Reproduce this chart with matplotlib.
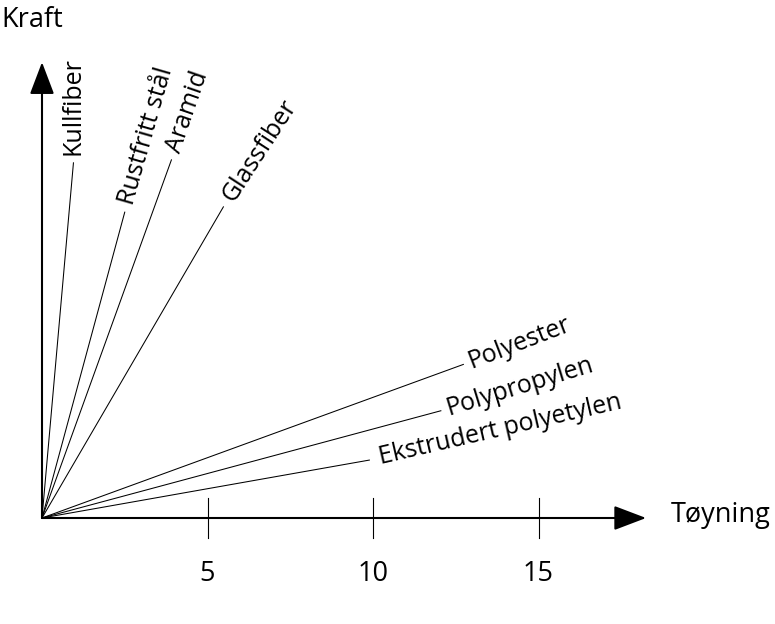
import numpy as np
import matplotlib
matplotlib.use("Agg")
import matplotlib.pyplot as plt

plt.rcParams['font.family'] = ['Open Sans', 'DejaVu Sans']

# materials: end point of each line (strain, force), force in arbitrary units
materials = ['Kullfiber', 'Rustfritt stål', 'Aramid', 'Glassfiber',
             'Polyester', 'Polypropylen', 'Ekstrudert polyetylen']
strain = [0.95, 2.50, 3.91, 5.48, 12.73, 12.05, 9.89]
force = [10.73, 9.24, 10.82, 9.40, 4.64, 3.24, 1.75]

xticks = [5, 10, 15]
xlabel = 'Tøyning'
ylabel = 'Kraft'

# label rotation (degrees) and gap from line end (data units)
label_rot = [90, 74, 71, 57, 21, 17, 13]
label_gap = [0.25, 0.25, 0.25, 0.25, 0.18, 0.2, 0.3]

fig = plt.figure(figsize=(7.75, 6.24), dpi=100)
ax = fig.add_axes([0, 0, 1, 1])
ppu = 33.1  # pixels per unit
ox, oy = 42, 518
ax.set_xlim(-ox / ppu, (775 - ox) / ppu)
ax.set_ylim(-(624 - oy) / ppu, oy / ppu)
ax.axis('off')

# axes with arrows
arrow = dict(arrowstyle='-|>,head_length=1.0,head_width=0.38',
             mutation_scale=20, lw=1.5, color='black',
             shrinkA=0, shrinkB=0)
ax.annotate('', xy=(18.25, 0), xytext=(0, 0), arrowprops=arrow)
ax.annotate('', xy=(0, 13.77), xytext=(0, 0), arrowprops=arrow)

for t in xticks:
    ax.plot([t, t], [-0.6, 0.6], color='black', lw=0.8)
    ax.text(t, -1.68, str(t), ha='center', va='center', fontsize=19.5)

ax.text(19.0, 0.1, xlabel, ha='left', va='center', fontsize=19.5)
ax.text(-1.22, 15.05, ylabel, ha='left', va='center', fontsize=19.5)

for name, x, y, rot, gap in zip(materials, strain, force, label_rot, label_gap):
    ax.plot([0, x], [0, y], color='black', lw=0.75)
    a = np.deg2rad(rot)
    ax.text(x + gap * np.cos(a), y + gap * np.sin(a), name,
            rotation=rot, rotation_mode='anchor',
            ha='left', va='center', fontsize=18)

fig.savefig('out.png', dpi=100)
